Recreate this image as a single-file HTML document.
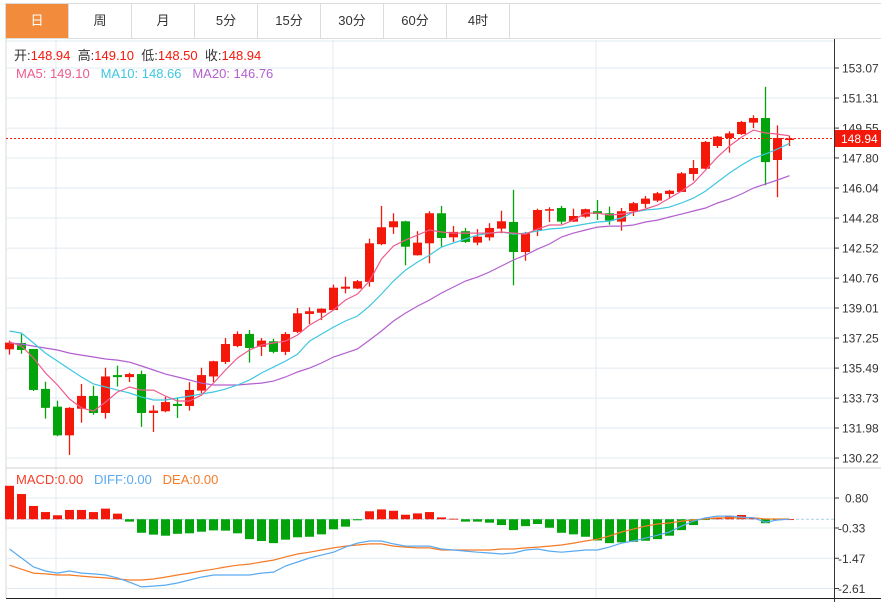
<!DOCTYPE html>
<html><head><meta charset="utf-8">
<style>
html,body{margin:0;padding:0;background:#fff;width:881px;height:602px;overflow:hidden;font-family:"Liberation Sans","Noto Sans CJK SC",sans-serif;}
#tabs{position:absolute;left:5px;top:3px;height:36px;width:876px;border:1px solid #dcdcdc;border-right:none;box-sizing:border-box;display:flex;}
.tab{width:63px;height:34px;line-height:34px;text-align:center;font-size:13px;color:#333;border-right:1px solid #dcdcdc;box-sizing:border-box;}
.tab.active{background:#f28c3c;color:#fff;}
svg{position:absolute;left:0;top:0;}
</style></head><body>
<div id="tabs">
<div class="tab active">日</div>
<div class="tab">周</div>
<div class="tab">月</div>
<div class="tab">5分</div>
<div class="tab">15分</div>
<div class="tab">30分</div>
<div class="tab">60分</div>
<div class="tab">4时</div>
</div>
<svg id="chart" width="881" height="602"></svg>
<script>
const opens=[136.59,136.96,136.61,134.27,133.23,131.55,133.11,133.86,132.86,135.08,134.96,135.14,132.86,132.96,133.39,133.27,134.17,135.00,135.85,136.78,137.49,136.74,137.06,136.44,137.61,138.66,138.73,138.89,140.14,140.15,140.54,142.75,143.74,144.09,142.10,142.80,144.56,143.15,143.51,142.84,143.15,143.66,144.05,142.29,143.58,144.71,144.87,144.07,144.36,144.68,144.56,144.07,144.68,145.11,145.30,145.69,145.81,146.86,147.17,148.50,148.97,149.20,149.87,150.14,147.68,148.94];
const highs=[137.10,137.49,136.61,134.69,133.58,133.20,134.56,134.45,135.51,135.63,135.22,135.34,133.31,133.80,133.78,134.67,135.51,135.92,137.25,137.64,137.72,137.25,137.21,137.60,139.01,139.05,138.99,140.38,140.84,140.65,143.07,144.99,144.56,144.12,143.51,144.68,144.99,143.82,143.70,143.63,143.98,144.71,145.93,143.47,144.83,144.91,144.99,144.83,144.83,145.34,144.95,144.87,145.22,145.57,145.81,145.93,146.97,147.68,148.80,149.09,149.36,149.97,150.30,151.97,149.71,149.10];
const lows=[136.28,136.33,134.15,132.53,131.50,130.40,132.29,132.76,132.53,134.41,134.67,132.05,131.75,132.90,132.57,133.00,134.02,134.67,135.73,136.71,135.81,136.20,136.36,136.25,137.55,138.07,138.30,138.87,139.87,140.12,140.26,142.69,143.35,141.51,142.08,141.63,142.60,142.88,142.82,142.69,142.96,143.39,140.34,141.78,143.23,144.05,143.93,144.05,144.29,144.17,143.89,143.54,144.40,144.87,145.22,145.46,145.81,146.47,147.15,148.38,148.11,149.15,149.55,146.20,145.50,148.50];
const closes=[136.98,136.55,134.21,133.16,131.55,133.16,133.86,132.86,135.00,134.96,135.14,132.86,133.00,133.50,133.27,134.21,135.08,135.89,136.90,137.49,136.67,137.10,136.44,137.49,138.70,138.82,138.97,140.20,140.26,140.58,142.80,143.74,144.09,142.60,142.84,144.56,143.11,143.47,142.88,143.19,143.70,144.09,142.29,143.39,144.75,144.80,144.07,144.40,144.80,144.52,144.13,144.68,145.15,145.42,145.73,145.88,146.90,147.21,148.74,149.05,149.24,149.91,150.14,147.56,148.97,148.94];
const ma5=[137.02,136.78,136.08,135.20,134.50,133.68,133.15,132.97,133.50,134.09,134.38,134.20,134.20,133.85,133.56,133.56,133.91,134.61,135.38,136.08,136.55,136.84,136.96,137.07,137.43,138.01,138.42,138.89,139.48,139.83,140.59,141.88,142.64,142.99,143.28,143.58,143.46,143.40,143.40,143.40,143.40,143.46,143.40,143.34,143.64,143.87,143.87,144.16,144.57,144.57,144.46,144.51,144.63,144.81,145.04,145.45,145.86,146.33,147.09,147.85,148.50,149.02,149.43,149.26,149.20,149.10];
const ma10=[137.66,137.54,136.96,136.37,135.90,135.43,134.97,134.56,134.38,134.20,134.03,133.79,133.62,133.62,133.74,133.85,133.97,134.09,134.26,134.50,134.79,135.20,135.55,135.90,136.31,137.07,137.48,137.89,138.25,138.54,139.12,139.83,140.59,141.23,141.70,142.11,142.58,142.82,143.05,143.28,143.40,143.46,143.34,143.40,143.52,143.64,143.69,143.81,143.93,144.05,144.10,144.28,144.63,144.75,144.81,144.92,145.16,145.45,145.86,146.39,146.92,147.38,147.79,148.03,148.32,148.66];
const ma20=[136.96,136.90,136.78,136.66,136.55,136.37,136.25,136.14,136.02,135.96,135.84,135.61,135.38,135.14,134.97,134.79,134.61,134.50,134.50,134.50,134.56,134.61,134.73,134.97,135.26,135.49,135.79,136.14,136.37,136.61,137.13,137.66,138.25,138.71,139.12,139.48,139.89,140.24,140.59,140.82,141.12,141.47,141.82,142.11,142.46,142.76,143.17,143.40,143.58,143.75,143.81,143.81,143.87,144.05,144.16,144.34,144.51,144.69,144.87,145.16,145.39,145.69,146.04,146.27,146.51,146.76];
const macdBars=[1.26,0.95,0.50,0.27,0.15,0.35,0.35,0.27,0.40,0.21,-0.09,-0.51,-0.58,-0.62,-0.55,-0.53,-0.47,-0.42,-0.43,-0.53,-0.75,-0.82,-0.90,-0.77,-0.68,-0.66,-0.57,-0.38,-0.28,-0.04,0.30,0.37,0.32,0.17,0.22,0.27,0.07,0.02,-0.09,-0.09,-0.13,-0.22,-0.41,-0.26,-0.18,-0.32,-0.51,-0.57,-0.66,-0.80,-0.90,-0.87,-0.85,-0.81,-0.75,-0.62,-0.41,-0.22,-0.03,0.06,0.13,0.16,0.06,-0.15,-0.03,0.0];
const diff=[-1.12,-1.46,-1.80,-1.95,-2.03,-1.95,-2.03,-2.06,-2.10,-2.21,-2.37,-2.55,-2.52,-2.48,-2.40,-2.29,-2.18,-2.10,-2.10,-2.10,-2.10,-2.03,-1.99,-1.76,-1.61,-1.46,-1.35,-1.24,-1.05,-0.90,-0.82,-0.82,-0.93,-1.01,-1.01,-1.01,-1.12,-1.16,-1.20,-1.24,-1.27,-1.31,-1.27,-1.16,-1.12,-1.20,-1.24,-1.20,-1.16,-1.16,-1.05,-0.90,-0.82,-0.71,-0.60,-0.48,-0.26,-0.07,0.05,0.12,0.12,0.08,0.05,-0.11,-0.03,0.00];
const dea=[-1.73,-1.88,-2.03,-2.06,-2.10,-2.10,-2.14,-2.18,-2.21,-2.25,-2.29,-2.29,-2.25,-2.18,-2.10,-2.03,-1.95,-1.88,-1.80,-1.73,-1.69,-1.61,-1.54,-1.42,-1.31,-1.24,-1.16,-1.08,-1.01,-0.97,-0.93,-0.93,-1.01,-1.05,-1.08,-1.08,-1.16,-1.16,-1.16,-1.16,-1.16,-1.12,-1.12,-1.08,-1.05,-1.01,-0.97,-0.90,-0.82,-0.75,-0.63,-0.48,-0.37,-0.26,-0.18,-0.14,-0.07,-0.03,0.01,0.05,0.05,0.05,0.05,0.01,0.01,0.01];
const priceTicks=[153.07,151.31,149.55,147.80,146.04,144.28,142.52,140.76,139.01,137.25,135.49,133.73,131.98,130.22];
const macdTicks=[0.80,-0.33,-1.47,-2.61];
const lastPrice=148.94;

const NS='http://www.w3.org/2000/svg';
const svg=document.getElementById('chart');
const X0=9.5, STEP=12, AXIS=834, LEFT=6;
const xAt=i=>X0+STEP*i;
const yP=p=>68+(153.07-p)*30/1.7575;
const yM=v=>498+(0.80-v)*30/1.13;
function el(tag,attrs,parent){const e=document.createElementNS(NS,tag);for(const k in attrs)e.setAttribute(k,attrs[k]);(parent||svg).appendChild(e);return e;}
const RED='#f3180a', GREEN='#03a40b';

const grid=el('g',{});


el('line',{x1:LEFT,y1:39,x2:LEFT,y2:598,stroke:'#d8d8d8'},grid);
[56,333,596].forEach(x=>el('line',{x1:x,y1:40,x2:x,y2:598,stroke:'#e2ebf2'},grid));
el('line',{x1:LEFT,y1:41,x2:AXIS,y2:41,stroke:'#e2ebf2'},grid);
priceTicks.forEach(p=>el('line',{x1:LEFT,y1:yP(p),x2:AXIS,y2:yP(p),stroke:'#e2ebf2'},grid));
macdTicks.forEach(v=>el('line',{x1:LEFT,y1:yM(v),x2:AXIS,y2:yM(v),stroke:'#e2ebf2'},grid));
el('line',{x1:LEFT,y1:468,x2:881,y2:468,stroke:'#d0d0d0'},grid);
el('line',{x1:LEFT,y1:598.5,x2:881,y2:598.5,stroke:'#222'},grid);
el('line',{x1:AXIS+0.5,y1:39,x2:AXIS+0.5,y2:602,stroke:'#333'},grid);

priceTicks.forEach((p,i)=>{
  el('line',{x1:AXIS,y1:yP(p),x2:AXIS+5,y2:yP(p),stroke:'#333'});
  const t=el('text',{x:842,y:yP(p)+4.5,'font-size':12,fill:'#333'});t.textContent=p.toFixed(2);
  
  
});
macdTicks.forEach(v=>{
  el('line',{x1:AXIS,y1:yM(v),x2:AXIS+5,y2:yM(v),stroke:'#333'});
  const t=el('text',{x:v<0?838:845,y:yM(v)+4.5,'font-size':12,fill:'#333'});t.textContent=(v<0?'-':'')+Math.abs(v).toFixed(2);
  
  
});

el('line',{x1:LEFT,y1:yM(0),x2:AXIS,y2:yM(0),stroke:'#a9d3ea','stroke-dasharray':'3,2'});

opens.forEach((o,i)=>{
  const c=closes[i],up=c>=o,col=up?RED:GREEN,x=xAt(i);
  const g=el('g',{});
  
  
  el('line',{x1:x,y1:yP(highs[i]),x2:x,y2:yP(lows[i]),stroke:col,'stroke-width':1.3},g);
  const top=yP(Math.max(o,c)),bot=yP(Math.min(o,c));
  el('rect',{x:x-4.5,y:top,width:9,height:Math.max(1.5,bot-top),fill:col},g);
});

function line(arr,yf,col,name,w){
  const p=el('polyline',{points:arr.map((v,i)=>xAt(i)+','+yf(v).toFixed(1)).join(' '),fill:'none',stroke:col,'stroke-width':w||1.2});
  
  
}
line(ma20,yP,'#b35fcf','ma20-line');
line(ma10,yP,'#3ec7df','ma10-line');
line(ma5,yP,'#ef5b8d','ma5-line');

el('line',{x1:LEFT,y1:yP(lastPrice),x2:AXIS,y2:yP(lastPrice),stroke:'#f3180a','stroke-dasharray':'2,2'});
const pl=el('rect',{x:835,y:yP(lastPrice)-8.5,width:46,height:17,fill:'#f3180a'});


const plt=el('text',{x:841,y:yP(lastPrice)+4.5,'font-size':12,fill:'#fff'});plt.textContent=lastPrice.toFixed(2);

macdBars.forEach((v,i)=>{
  const y0=yM(0),y1=yM(v);
  const r=el('rect',{x:xAt(i)-4.5,y:Math.min(y0,y1),width:9,height:Math.max(0.8,Math.abs(y1-y0)),fill:v>=0?RED:GREEN});
  
  
});
line(dea,yM,'#f57b28','dea-line');
line(diff,yM,'#5aaaf0','diff-line');

function txt(parts,x,y,name){
  const t=el('text',{x:x,y:y,'font-size':13});
  
  
  parts.forEach(([s,c])=>{const ts=el('tspan',{fill:c},t);ts.textContent=s;});
}
txt([['开:','#333'],['148.94  ','#f3180a'],['高:','#333'],['149.10  ','#f3180a'],['低:','#333'],['148.50  ','#f3180a'],['收:','#333'],['148.94','#f3180a']],14,60,'ohlc-legend');
txt([['MA5: 149.10   ','#ef5b8d'],['MA10: 148.66   ','#3ec7df'],['MA20: 146.76','#b35fcf']],16,78,'ma-legend');
txt([['MACD:0.00   ','#f3402a'],['DIFF:0.00   ','#5aaaf0'],['DEA:0.00','#f57b28']],16,484,'macd-legend');
svg.querySelectorAll('text').forEach(t=>t.setAttribute('xml:space','preserve'));
svg.querySelectorAll('text').forEach(t=>t.style.whiteSpace='pre');
</script>
</body></html>
